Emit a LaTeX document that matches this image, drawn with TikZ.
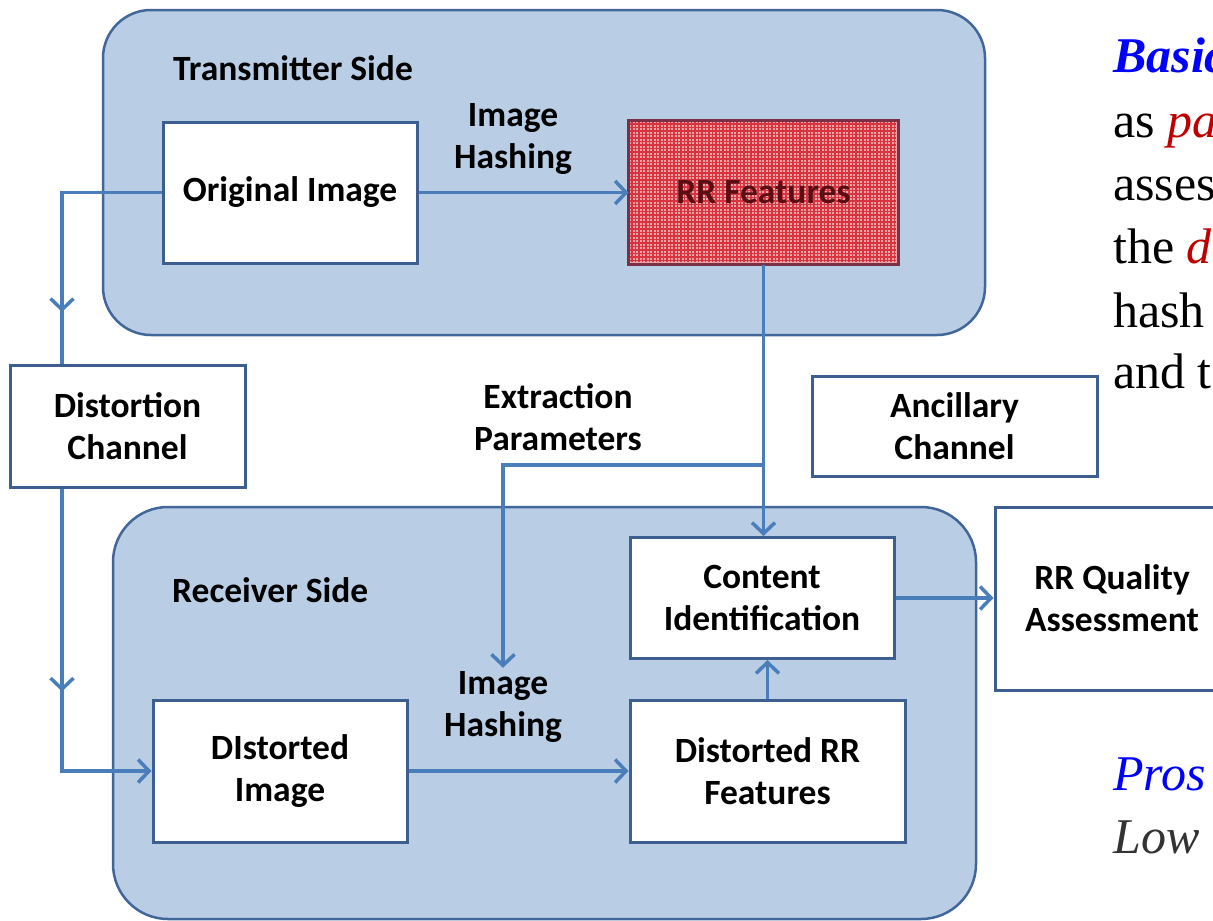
\documentclass[tikz,border=0pt]{standalone}
\usepackage{fontspec}
\setmainfont{Carlito}
\newfontfamily\serifface{Liberation Serif}
\usetikzlibrary{arrows.meta,decorations.markings,calc}

\definecolor{panel}{HTML}{B9CDE5}
\definecolor{panelline}{HTML}{41679A}
\definecolor{boxline}{HTML}{3D5F8F}
\definecolor{flow}{HTML}{4A7EBB}
\definecolor{rrfill}{HTML}{EBA4A8}
\definecolor{rrgrid}{HTML}{D83440}
\definecolor{rrline}{HTML}{7B3048}
\definecolor{rrtext}{HTML}{5A0E14}
\definecolor{hiblue}{HTML}{0000FF}
\definecolor{hired}{HTML}{C00000}
\definecolor{lowgray}{HTML}{333333}

\begin{document}
\begin{tikzpicture}[x=1pt,y=-1pt,
  lbl/.style={font=\fontsize{35.5}{42}\selectfont\bfseries, align=center, inner sep=0pt},
  panelbox/.style={draw=panelline, line width=2.5pt, fill=panel, rounded corners=#1},
  block/.style 2 args={lbl, draw=boxline, line width=3pt, fill=white,
    minimum width=#1, minimum height=#2},
  flowline/.style={draw=flow, line width=3.5pt},
  tipshape/.style={-{Straight Barb[length=11pt,width=23pt]}},
  arr/.style={flowline, tipshape},
  midarrow/.style={postaction={decorate}, decoration={markings,
    mark=at position #1 with {\arrow{Straight Barb[length=11pt,width=23pt]}}}},
  prose/.style={font=\serifface\fontsize{50}{63}\selectfont, anchor=base west, inner sep=0pt}]

\useasboundingbox (0,0) rectangle (1213,921);
\begin{scope}
\clip (0,0) rectangle (1213,921);

% transmitter and receiver panels
\path[panelbox=48pt] (103,10) rectangle (985,335);
\path[panelbox=55pt] (113,507) rectangle (976,919);

\node[lbl, anchor=west] (txtitle) at (173,68) {Transmitter Side};
\node[lbl, anchor=west] (rxtitle) at (172,590) {Receiver Side};

% blocks
\node[block={254pt}{141pt}] (orig) at (290,192.5) {Original Image};
\node[block={267pt}{141pt}, fill=rrfill, draw=none] (rrf) at (763.5,192.5) {};
\begin{scope}
  \clip (rrf.north west) rectangle (rrf.south east);
  \foreach \gx in {0,3.5,...,270} {
    \draw[rrgrid, line width=1.1pt] ($(rrf.north west)+(\gx,0)$) -- ++(0,141);
  }
  \foreach \gy in {0,3.5,...,142} {
    \draw[rrgrid, line width=1.1pt] ($(rrf.north west)+(0,\gy)$) -- ++(267,0);
  }
\end{scope}
\draw[rrline, line width=3pt] (rrf.north west) rectangle (rrf.south east);
\node[lbl, text=rrtext] (rrftext) at (rrf.center) {RR Features};

\node[block={235pt}{122pt}] (dist) at (127.5,426) {Distortion\\Channel};
\node[block={285pt}{100pt}] (anc) at (954.5,426) {Ancillary\\Channel};
\node[block={264pt}{121pt}] (cid) at (762,598) {Content\\Identification};
\node[block={234pt}{183pt}] (rrq) at (1112,598.5) {RR Quality\\Assessment};
\node[block={254pt}{142pt}] (dimg) at (280,771) {DIstorted\\Image};
\node[block={275pt}{142pt}] (drrf) at (767.5,771) {Distorted RR\\Features};

% flow labels
\node[lbl] (hashA) at (513,139) {Image\\Hashing};
\node[lbl] (extr) at (558,417.5) {Extraction\\Parameters};
\node[lbl] (hashB) at (503,706.5) {Image\\Hashing};

% connectors
\coordinate (lx) at (62,0);
\coordinate (br) at (0,465);
\draw[flowline, midarrow=219pt] (orig.west) -| (dist.north -| lx);
\draw[arr, midarrow=203pt] (dist.south -| lx) |- (dimg.west);
\draw[arr] (orig.east) -- (rrf.west);
\draw[arr] (rrf.south) -- (rrf.south |- cid.north);
\draw[arr] (rrf.south |- br) -| ($(hashB.north)+(0,-3)$);
\draw[arr] (cid.east) -- (cid.east -| rrq.west);
\draw[arr] (dimg.east) -- (drrf.west);
\draw[arr] (drrf.north) -- (drrf.north |- cid.south);

% text running off the right edge
\node[prose] (t1) at (1113,72) {\bfseries\itshape\color{hiblue}Basic};
\node[prose] (t2) at (1113,137) {as \textit{\color{hired}pa}};
\node[prose] (t3) at (1113,200) {asses};
\node[prose] (t4) at (1113,263) {the \textit{\color{hired}d}};
\node[prose] (t5) at (1113,327) {hash};
\node[prose] (t6) at (1113,388) {and t};
\node[prose] (t7) at (1113,790) {\itshape\color{hiblue}Pros};
\node[prose] (t8) at (1113,853) {\itshape\color{lowgray}Low};
\end{scope}
\end{tikzpicture}
\end{document}
